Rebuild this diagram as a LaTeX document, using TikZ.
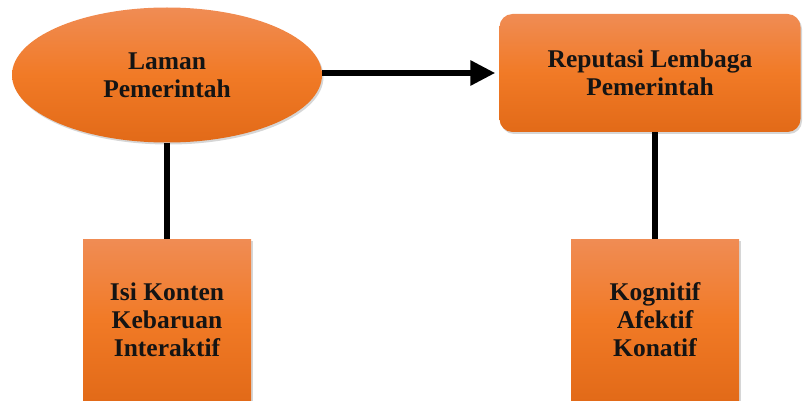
\documentclass[tikz,border=0pt]{standalone}
\usepackage{fontspec}
\setmainfont{Liberation Serif}
\usepackage{tikz}
\usetikzlibrary{shapes.geometric}
\usetikzlibrary{arrows.meta}
\usetikzlibrary{shadows}
\definecolor{orangetop}{RGB}{240,140,84}
\definecolor{orangemid}{RGB}{241,122,38}
\definecolor{orangebot}{RGB}{226,106,24}
\definecolor{textdark}{RGB}{20,20,20}

\begin{document}
\begin{tikzpicture}[x=1pt, y=-1pt,
	orangebox/.style={top color=orangetop, bottom color=orangebot, middle color=orangemid,
		inner sep=0pt, align=center, text=textdark,
		font=\fontsize{25.5}{28}\selectfont\bfseries,
		drop shadow={shadow xshift=1.5pt, shadow yshift=-2pt, fill=black!40, opacity=.4}},
	link/.style={line width=6pt, black}]
	\useasboundingbox (0,0) rectangle (803,401);

	\node[orangebox, ellipse, minimum width=310pt, minimum height=135pt] (laman) at (167,75) {Laman\\Pemerintah};	% sumber
	\node[orangebox, rounded corners=13pt, minimum width=301pt, minimum height=118pt] (reputasi) at (650,73) {Reputasi Lembaga\\Pemerintah};

	\node[orangebox, minimum width=168pt, minimum height=162pt] (isi) at (167,320) {Isi Konten\\Kebaruan\\Interaktif};	% indikator
	\node[orangebox, minimum width=168pt, minimum height=162pt] (kognitif) at (655,320) {Kognitif\\Afektif\\Konatif};

	\draw[link, -{Triangle[length=25pt, width=24pt]}, shorten >=4pt] (laman.east |- reputasi.west) -- (reputasi.west);	% Pengaruh
	\draw[link] (laman) -- (isi);
	\draw[link] (kognitif.north) -- (kognitif.north |- reputasi.south);
\end{tikzpicture}
\end{document}
